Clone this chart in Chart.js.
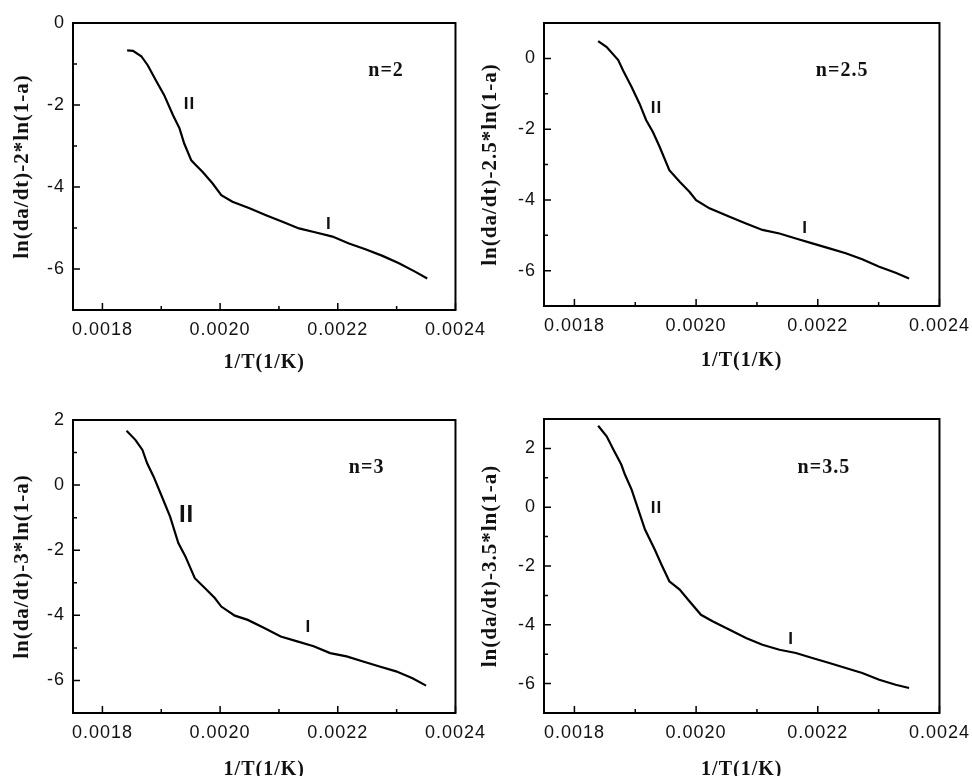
<!DOCTYPE html>
<html>
<head>
<meta charset="utf-8">
<script src="https://cdn.jsdelivr.net/npm/chart.js@4.4.0/dist/chart.umd.min.js"></script>
<style>
  html, body { margin: 0; padding: 0; background: #fff; overflow: hidden; width: 972px; height: 776px; }
  canvas { position: absolute; }
</style>
</head>
<body>
<canvas id="c1" width="492" height="388" style="left:0;top:0"></canvas>
<canvas id="c2" width="500" height="388" style="left:476px;top:0"></canvas>
<canvas id="c3" width="492" height="400" style="left:0;top:388px"></canvas>
<canvas id="c4" width="500" height="400" style="left:476px;top:388px"></canvas>
<script>
// x axis (1/T) shared by all four panels
const xTicks = [0.0018, 0.0020, 0.0022, 0.0024];
const xMinor = [0.0019, 0.0021, 0.0023];

// n = 2
const x_n2 = [0.001842,0.001852,0.001866,0.001877,0.001891,0.001905,0.001920,0.001931,0.001939,0.001951,0.001959,0.001970,0.001987,0.002002,0.002021,0.002050,0.002078,0.002106,0.002134,0.002163,0.002191,0.002219,0.002247,0.002276,0.002304,0.002332,0.002352];
const y_n2 = [-0.67,-0.68,-0.81,-1.03,-1.40,-1.76,-2.25,-2.57,-2.94,-3.35,-3.47,-3.63,-3.91,-4.20,-4.36,-4.52,-4.69,-4.85,-5.01,-5.11,-5.21,-5.38,-5.52,-5.68,-5.86,-6.07,-6.23];
const yTicks_n2 = [0, -2, -4, -6];
const yMinor_n2 = [-1, -3, -5];

// n = 2.5
const x_n25 = [0.001839,0.001853,0.001872,0.001880,0.001894,0.001907,0.001918,0.001929,0.001940,0.001956,0.001973,0.001989,0.002000,0.002022,0.002055,0.002082,0.002109,0.002137,0.002164,0.002191,0.002219,0.002246,0.002273,0.002301,0.002328,0.002350];
const y_n25 = [0.49,0.32,-0.05,-0.34,-0.81,-1.28,-1.75,-2.08,-2.50,-3.16,-3.49,-3.77,-4.01,-4.24,-4.48,-4.67,-4.85,-4.95,-5.09,-5.23,-5.37,-5.51,-5.68,-5.89,-6.06,-6.22];
const yTicks_n25 = [0, -2, -4, -6];
const yMinor_n25 = [-1, -3, -5];

// n = 3
const x_n3 = [0.001841,0.001856,0.001868,0.001876,0.001887,0.001901,0.001915,0.001929,0.001941,0.001957,0.001974,0.001991,0.002002,0.002025,0.002047,0.002075,0.002103,0.002131,0.002159,0.002187,0.002215,0.002243,0.002271,0.002299,0.002327,0.002350];
const y_n3 = [1.67,1.39,1.08,0.67,0.26,-0.35,-0.97,-1.78,-2.19,-2.86,-3.16,-3.47,-3.73,-4.01,-4.14,-4.39,-4.65,-4.80,-4.95,-5.16,-5.26,-5.42,-5.57,-5.72,-5.93,-6.16];
const yTicks_n3 = [2, 0, -2, -4, -6];
const yMinor_n3 = [1, -1, -3, -5];

// n = 3.5
const x_n35 = [0.001839,0.001853,0.001864,0.001877,0.001883,0.001894,0.001905,0.001916,0.001932,0.001943,0.001956,0.001973,0.001989,0.002008,0.002027,0.002055,0.002082,0.002109,0.002137,0.002164,0.002191,0.002219,0.002246,0.002273,0.002301,0.002328,0.002350];
const y_n35 = [2.77,2.41,1.96,1.45,1.11,0.60,-0.08,-0.76,-1.44,-1.95,-2.52,-2.80,-3.20,-3.66,-3.88,-4.17,-4.45,-4.68,-4.85,-4.96,-5.13,-5.30,-5.47,-5.64,-5.87,-6.04,-6.15];
const yTicks_n35 = [2, 0, -2, -4, -6];
const yMinor_n35 = [3, 1, -1, -3, -5];

const SERIF = '"Liberation Serif", "Times New Roman", serif';
const SANS = '"Liberation Sans", Arial, sans-serif';

// box, inward ticks and text labels inside the plot
const framePlugin = {
  id: 'frame',
  beforeDraw(chart) {
    // the scanned figure has wide-set lettering
    chart.ctx.letterSpacing = '1px';
  },
  afterDraw(chart, args, opts) {
    const {ctx, chartArea: a, scales: {x, y}} = chart;
    ctx.save();
    ctx.strokeStyle = '#000';
    ctx.lineWidth = 1.5;
    ctx.beginPath();
    xTicks.forEach(v => { const p = x.getPixelForValue(v); ctx.moveTo(p, a.bottom); ctx.lineTo(p, a.bottom - 7); });
    xMinor.forEach(v => { const p = x.getPixelForValue(v); ctx.moveTo(p, a.bottom); ctx.lineTo(p, a.bottom - 4); });
    opts.yTicks.forEach(v => { const p = y.getPixelForValue(v); ctx.moveTo(a.left, p); ctx.lineTo(a.left + 7, p); });
    opts.yMinor.forEach(v => { const p = y.getPixelForValue(v); ctx.moveTo(a.left, p); ctx.lineTo(a.left + 4, p); });
    ctx.stroke();
    ctx.lineWidth = 2;
    ctx.strokeRect(a.left, a.top, a.right - a.left, a.bottom - a.top);
    ctx.fillStyle = '#111';
    ctx.textAlign = 'center';
    ctx.textBaseline = 'middle';
    opts.labels.forEach(l => {
      ctx.font = l.font;
      ctx.fillText(l.text, x.getPixelForValue(l.x), y.getPixelForValue(l.y));
    });
    ctx.restore();
    ctx.letterSpacing = '0px';
  }
};

function makePanel(id, xs, ys, yMin, yMax, yTicks, yMinor, yTitle, labels, box) {
  new Chart(document.getElementById(id), {
    type: 'line',
    data: {
      datasets: [{
        data: xs.map((v, i) => ({x: v, y: ys[i]})),
        borderColor: '#000',
        borderWidth: 2.2,
        pointRadius: 0,
        tension: 0,
        fill: false
      }]
    },
    options: {
      responsive: false,
      animation: false,
      layout: {padding: {left: 0, right: box.right, top: box.top, bottom: 0}},
      plugins: {
        legend: {display: false},
        tooltip: {enabled: false},
        frame: {yTicks: yTicks, yMinor: yMinor, labels: labels}
      },
      scales: {
        x: {
          type: 'linear',
          min: 0.00175,
          max: 0.0024,
          afterBuildTicks: s => { s.ticks = xTicks.map(v => ({value: v})); },
          afterFit: s => { s.height = box.xh; },
          grid: {display: false, drawTicks: false},
          border: {display: false},
          ticks: {
            autoSkip: false,
            maxRotation: 0,
            padding: 9,
            color: '#111',
            font: {family: SANS, size: 18},
            callback: v => v.toFixed(4)
          },
          title: {
            display: true,
            text: '1/T(1/K)',
            color: '#111',
            font: {family: SERIF, size: 20, weight: 'bold', lineHeight: 1},
            padding: {top: 0, bottom: box.xt}
          }
        },
        y: {
          type: 'linear',
          min: yMin,
          max: yMax,
          afterBuildTicks: s => { s.ticks = yTicks.map(v => ({value: v})); },
          afterFit: s => { s.width = box.yw; },
          grid: {display: false, drawTicks: false},
          border: {display: false},
          ticks: {
            autoSkip: false,
            padding: 8,
            color: '#111',
            font: {family: SANS, size: 18},
            callback: v => String(v)
          },
          title: {
            display: true,
            text: yTitle,
            color: '#111',
            font: {family: SERIF, size: 21, weight: 'bold', lineHeight: 1},
            padding: {top: box.yt, bottom: 0}
          }
        }
      }
    },
    plugins: [framePlugin]
  });
}

const small = 'bold 17px ' + SANS;
const big = 'bold 24px ' + SANS;
const nFont = 'bold 20px ' + SERIF;

makePanel('c1', x_n2, y_n2, -7, 0, yTicks_n2, yMinor_n2, 'ln(da/dt)-2*ln(1-a)', [
  {text: 'II', x: 0.001948, y: -1.98, font: small},
  {text: 'I', x: 0.002185, y: -4.9, font: small},
  {text: 'n=2', x: 0.002282, y: -1.17, font: nFont}
], {right: 35, top: 23, xh: 78, yw: 73, xt: 15, yt: 12});

makePanel('c2', x_n25, y_n25, -7, 1, yTicks_n25, yMinor_n25, 'ln(da/dt)-2.5*ln(1-a)', [
  {text: 'II', x: 0.001935, y: -1.40, font: small},
  {text: 'I', x: 0.002179, y: -4.80, font: small},
  {text: 'n=2.5', x: 0.002240, y: -0.36, font: nFont}
], {right: 35, top: 23, xh: 82, yw: 68, xt: 17, yt: 4});

makePanel('c3', x_n3, y_n3, -7, 2, yTicks_n3, yMinor_n3, 'ln(da/dt)-3*ln(1-a)', [
  {text: 'II', x: 0.001943, y: -0.92, font: big},
  {text: 'I', x: 0.002150, y: -4.36, font: small},
  {text: 'n=3', x: 0.002249, y: 0.53, font: nFont}
], {right: 32, top: 32, xh: 75, yw: 73, xt: 8, yt: 12});

makePanel('c4', x_n35, y_n35, -7, 3, yTicks_n35, yMinor_n35, 'ln(da/dt)-3.5*ln(1-a)', [
  {text: 'II', x: 0.001935, y: -0.03, font: small},
  {text: 'I', x: 0.002156, y: -4.48, font: small},
  {text: 'n=3.5', x: 0.002210, y: 1.33, font: nFont}
], {right: 35, top: 31, xh: 75, yw: 68, xt: 8, yt: 4});
</script>
</body>
</html>
